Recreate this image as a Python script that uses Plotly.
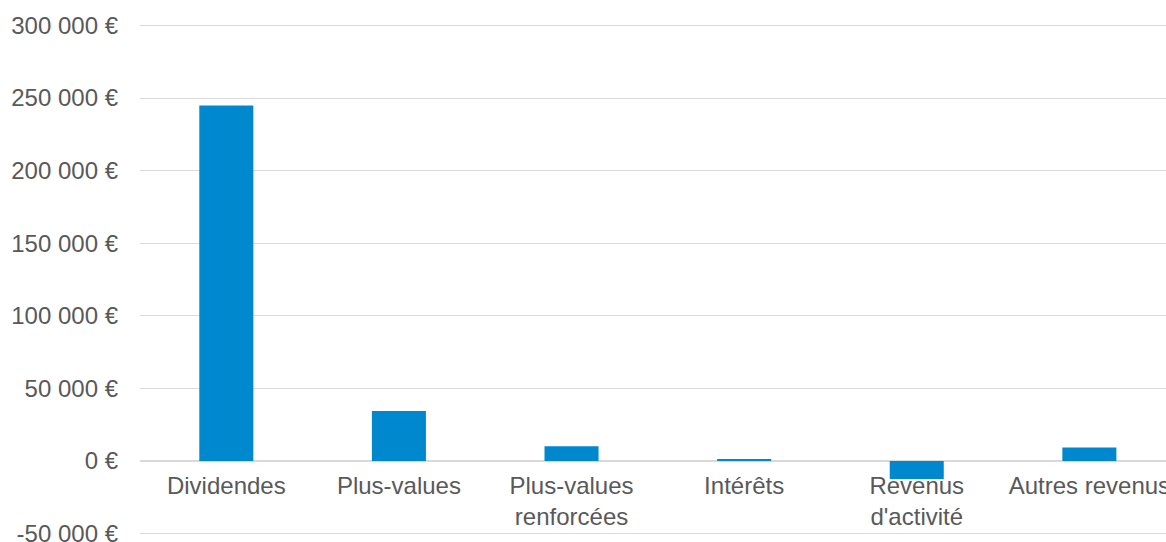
import plotly.graph_objects as go

categories = ["Dividendes", "Plus-values", "Plus-values<br>renforcées", "Intérêts",
              "Revenus<br>d'activité", "Autres revenus"]
values = [244800, 34400, 10100, 900, -12400, 9200]
y_tickvals = [-50000, 0, 50000, 100000, 150000, 200000, 250000, 300000]
y_ticktext = ["-50 000 €", "0 €", "50 000 €", "100 000 €", "150 000 €",
              "200 000 €", "250 000 €", "300 000 €"]

ymin, ymax = -51000, 301000

fig = go.Figure(go.Bar(x=categories, y=values, marker=dict(color="#0088CE", line=dict(width=0))))

fig.update_layout(
    width=1166, height=542,
    margin=dict(l=140, r=0, t=24, b=7, autoexpand=False),
    paper_bgcolor="white", plot_bgcolor="white",
    bargap=0.687,
    showlegend=False,
    font=dict(family="Liberation Sans, Arial, sans-serif", color="#595959", size=24),
)
fig.update_yaxes(
    range=[ymin, ymax], tickvals=y_tickvals, ticktext=y_ticktext,
    showgrid=True, gridcolor="#d9d9d9", gridwidth=1,
    zeroline=True, zerolinecolor="#d9d9d9", zerolinewidth=1.5,
    showline=False, ticks="", ticklabelstandoff=21,
    ticklabeloverflow="allow", automargin=False,
    tickfont=dict(size=24, color="#595959"),
)
fig.update_xaxes(
    type="category", range=[-0.5, 5.444],
    anchor="free", position=(0 - ymin) / (ymax - ymin),
    showgrid=False, showline=False, ticks="", zeroline=False,
    tickfont=dict(size=24, color="#595959"),
    ticklabelstandoff=8,
    ticklabeloverflow="allow", automargin=False,
    tickangle=0,
)

fig.write_html("out.html", config={"displayModeBar": False},
               post_script="document.body.style.margin='0';")
